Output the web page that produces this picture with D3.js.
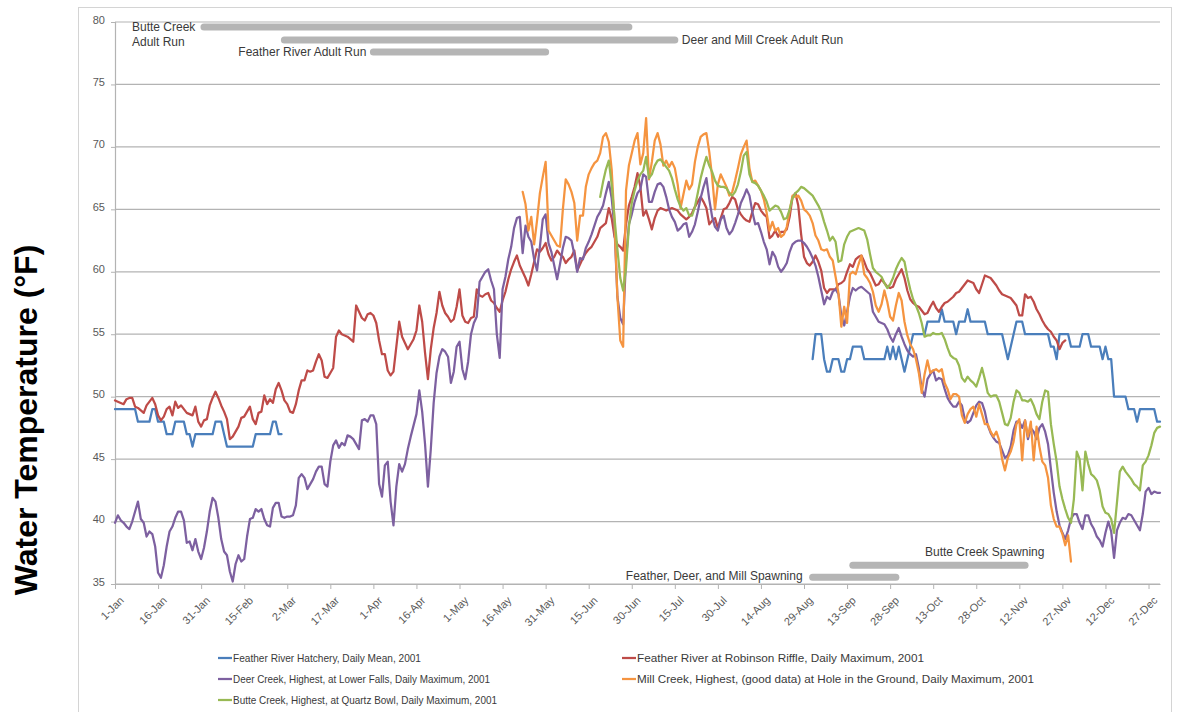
<!DOCTYPE html>
<html>
<head>
<meta charset="utf-8">
<script src="https://cdn.jsdelivr.net/npm/d3@7"></script>
<style>
  html, body { margin: 0; padding: 0; background: #ffffff; }
  svg { display: block; }
  text { font-family: "Liberation Sans", Arial, sans-serif; }
</style>
</head>
<body>
<svg id="chart" width="1177" height="712"></svg>
<script>
// ---- Data: daily water temperatures (°F), 2001 ----

// Feather River Hatchery, daily mean (two recorded periods)
const hatcheryJanFebStart = "2001-01-01";
const hatcheryJanFeb = [
  49,49,49,49,49,49,49,49,48,48, 48,48,48,49,49,48,48,48,47,47,
  47,48,48,48,48,47,47,46,47,47, 47,47,47,47,47,48,48,48,47,46,
  46,46,46,46,46,46,46,46,46,47, 47,47,47,47,47,48,48,47,47
];
const hatcherySepDecStart = "2001-09-01";
const hatcherySepDec = [
  53,55,55,55,53,52,52,53,53,53, 52,52,53,53,54,54,54,54,53,53,
  53,53,53,53,53,53,54,53,54,53, 54,53,52,53,54,55,55,55,55,55,
  56,56,56,56,56,57,56,56,56,56, 55,56,56,56,57,56,56,56,56,56,
  56,55,55,55,55,55,55,54,53,54, 55,56,56,56,55,55,55,55,55,55,
  55,55,55,54,54,53,55,55,55,55, 54,54,54,54,55,55,55,54,54,54,
  54,53,54,53,53,50,50,50,50,50, 49,49,49,48,49,49,49,49,49,49,
  48,48
];

// Feather River at Robinson Riffle, daily maximum
const robinsonStart = "2001-01-01";
const robinsonRiffle = [
  49.7,49.6,49.5,49.4,49.8,49.9,49.9,49.2,49.1,48.9,
  48.7,49.3,49.6,49.9,49.4,48.5,48.1,48.4,49.0,49.2,
  48.5,49.6,49.1,49.3,49.0,48.7,48.6,48.5,49.2,48.0,
  47.6,48.1,48.2,49.3,49.9,50.4,49.9,49.3,48.8,48.2,
  46.6,46.8,47.2,47.6,48.3,48.4,48.8,49.2,48.2,47.8,
  48.7,48.8,50.1,49.4,49.8,49.5,50.6,51.1,50.5,49.7,
  49.4,48.8,48.7,49.4,50.5,51.3,51.3,52.1,52.0,52.1,
  52.8,53.4,52.9,51.6,51.5,51.9,52.3,54.8,55.3,55.0,
  54.9,54.8,54.6,54.4,57.3,56.8,56.3,56.1,56.6,56.7,
  56.5,55.9,54.5,53.4,53.4,52.1,51.7,52.0,54.0,56.0,
  54.8,54.3,53.8,54.2,54.6,55.3,57.3,56.0,53.5,51.4,
  53.8,55.5,56.7,58.4,57.3,56.7,56.4,56.0,56.2,57.2,
  58.6,56.5,56.0,55.9,56.3,56.4,58.6,58.1,58.0,58.2,
  58.3,57.7,57.5,57.1,56.8,57.7,58.4,59.4,60.2,60.8,
  61.3,60.5,60.0,59.5,58.9,59.8,60.8,61.8,61.6,61.9,
  62.3,61.4,60.9,61.2,61.7,61.4,61.2,60.7,61.0,61.2,
  61.7,60.1,60.6,61.1,61.5,61.8,62.0,62.4,62.8,63.5,
  63.7,63.9,65.1,64.3,62.8,62.2,62.0,61.7,63.8,65.3,
  66.0,66.8,67.9,66.8,64.5,64.9,64.2,63.4,64.3,64.9,
  65.1,65.0,64.9,65.0,65.1,65.0,64.9,64.6,64.4,64.2,
  64.4,64.7,65.2,65.6,66.0,65.6,65.1,63.8,64.1,64.3,
  63.5,64.3,65.0,65.1,65.5,66.0,65.8,65.0,64.6,64.3,
  64.1,64.0,64.8,65.5,65.4,64.9,64.6,64.4,62.7,62.9,
  63.3,62.8,63.2,63.2,63.4,64.4,66.0,66.3,65.3,63.0,
  61.2,60.7,60.5,60.8,61.3,60.8,60.1,58.7,58.3,58.6,
  58.6,58.6,59.0,59.1,59.3,60.0,60.6,60.4,61.0,61.2,
  61.3,60.8,60.2,59.9,59.4,58.9,59.0,59.4,59.1,58.8,
  58.7,58.8,59.4,59.8,60.2,59.5,58.5,57.8,57.5,57.3,
  57.2,56.9,56.6,56.7,57.2,57.6,57.1,56.8,57.2,57.5,
  57.6,57.8,58.0,58.3,58.4,58.7,59.0,59.3,59.2,59.1,
  58.6,58.3,59.0,59.7,59.6,59.5,59.2,58.9,58.5,58.2,
  58.1,58.0,57.9,57.6,57.3,56.5,56.5,58.2,57.9,58.0,
  57.6,57.0,56.6,56.1,55.7,55.4,55.2,54.8,54.5,53.8,
  54.3,54.5
];

// Deer Creek, highest, at Lower Falls, daily maximum
const deerStart = "2001-01-01";
const deerCreek = [
  39.9,40.5,40.1,39.9,39.6,39.4,40.0,40.8,41.6,40.2,
  39.9,38.8,39.2,39.0,38.0,35.9,35.5,36.5,38.0,39.2,
  39.6,40.3,40.8,40.8,40.1,38.3,38.4,37.7,38.6,37.6,
  37.0,37.9,39.2,40.8,41.9,41.6,40.3,38.6,37.6,37.3,
  36.0,35.2,36.6,37.3,36.8,37.0,38.8,40.2,40.3,41.0,
  40.8,41.0,40.2,39.7,39.6,41.1,41.5,41.5,40.4,40.3,
  40.4,40.4,40.5,41.3,43.5,43.8,43.5,42.6,43.0,43.4,
  44.0,44.4,44.4,43.0,42.8,44.8,46.1,46.5,45.9,46.3,
  46.1,46.9,46.8,46.6,46.2,45.8,48.1,48.2,48.0,48.5,
  48.5,47.8,43.0,42.0,44.5,44.8,41.6,39.7,42.8,44.6,
  44.0,44.6,45.8,46.8,47.7,48.6,50.5,48.8,46.2,42.8,
  45.8,49.5,51.9,53.2,53.8,53.6,53.2,51.1,52.0,54.0,
  54.4,52.2,51.4,52.8,55.0,55.9,56.4,59.2,59.6,60.0,
  60.2,59.3,58.6,55.0,53.1,58.6,59.6,61.0,62.0,63.5,
  64.3,64.4,61.5,63.7,62.8,62.4,61.0,60.1,62.0,64.2,
  64.6,62.3,61.6,60.5,59.4,60.6,61.9,62.8,62.7,62.5,
  61.4,60.0,61.1,61.0,61.9,62.4,63.0,63.7,64.4,64.8,
  65.3,66.3,67.2,65.9,63.5,58.0,56.3,55.8,61.0,63.8,
  64.6,65.6,66.3,66.6,67.8,67.6,65.6,65.6,66.4,67.0,
  67.1,66.8,66.0,65.0,64.4,64.0,63.3,63.5,63.8,63.9,
  62.8,63.2,63.8,64.8,65.9,66.8,67.5,65.8,64.4,63.6,
  63.3,64.2,64.5,63.5,63.0,63.3,63.9,64.6,65.5,66.0,
  66.6,66.1,64.8,63.8,63.9,63.2,62.4,61.8,60.6,61.6,
  61.2,60.4,60.0,60.3,60.7,61.6,62.2,62.4,62.5,62.5,
  62.3,62.0,61.6,61.1,60.5,59.6,58.5,57.4,58.0,57.8,
  58.4,58.6,58.2,56.5,55.7,56.8,58.0,58.7,58.5,58.7,
  58.8,58.6,58.4,58.2,56.8,56.4,56.0,55.9,55.8,55.4,
  54.8,54.4,55.0,55.5,54.8,54.2,53.7,53.4,53.2,53.4,
  52.3,50.6,50.0,51.4,51.8,52.1,51.3,51.5,51.4,50.6,
  49.9,49.5,49.2,49.2,49.6,49.3,48.2,47.9,48.1,48.7,
  49.3,49.6,49.5,48.8,47.7,47.1,46.7,46.4,46.3,45.7,
  45.1,45.3,46.0,47.3,48.0,48.0,47.5,48.1,46.6,47.5,
  47.2,46.6,47.5,47.8,47.2,46.2,44.2,42.3,40.8,39.7,
  39.1,38.6,39.3,40.2,40.6,40.6,39.9,39.4,40.5,40.5,
  39.8,39.4,38.8,38.5,38.0,39.1,40.0,39.2,37.1,39.3,
  39.9,40.3,40.2,40.6,40.5,40.1,39.7,39.3,40.6,42.4,
  42.7,42.2,42.4,42.3,42.3
];

// Mill Creek, highest, (good data) at Hole in the Ground, daily maximum
const millStart = "2001-05-23";
const millCreek = [
  66.4,65.4,63.3,64.4,62.2,64.1,66.3,67.6,
  68.8,63.3,62.9,62.5,62.1,62.0,65.0,67.4,67.0,66.4,
  65.5,62.5,64.5,64.5,66.8,67.8,68.3,68.7,68.9,69.5,
  70.8,71.1,70.4,68.2,64.0,58.0,54.5,54.0,66.5,68.5,
  69.5,70.5,71.1,68.6,69.5,72.3,67.4,68.8,70.5,71.1,
  70.2,68.5,68.9,68.4,68.8,68.3,67.0,65.1,66.2,67.3,
  66.6,67.0,68.8,70.0,70.8,71.0,71.1,69.6,67.6,65.0,
  67.0,67.8,67.3,66.8,66.1,66.4,67.3,68.3,69.4,70.0,
  70.5,68.3,67.2,67.3,66.9,66.5,65.8,64.7,63.3,64.0,
  63.3,63.5,62.8,63.0,63.6,64.9,66.1,66.0,66.1,65.7,
  65.0,64.8,64.5,63.9,62.9,62.5,61.8,61.7,61.8,61.2,
  60.9,59.6,58.3,55.6,57.2,55.9,59.8,60.0,59.8,60.6,
  61.3,59.8,59.5,59.1,58.4,57.3,56.8,57.4,58.5,57.6,
  56.4,56.1,57.3,58.3,57.7,56.0,54.9,54.2,53.8,53.0,
  51.9,50.3,51.8,52.9,51.9,52.1,52.2,52.0,52.2,51.1,
  50.6,49.8,50.2,50.2,50.0,48.5,47.9,48.6,49.0,49.2,
  48.4,49.4,48.6,47.8,47.8,47.2,46.8,47.2,46.5,45.0,
  44.1,45.1,45.6,46.4,47.8,48.2,44.9,48.1,46.8,48.0,
  44.9,47.6,46.0,44.8,44.5,43.5,41.3,40.2,39.6,39.6,
  39.0,38.1,38.9,36.8
];

// Butte Creek, highest, at Quartz Bowl, daily maximum
const butteStart = "2001-06-19";
const butteCreek = [
  66.0,
  67.2,68.2,68.9,67.0,64.3,61.8,59.5,58.5,60.3,63.6,
  65.5,66.5,67.3,67.8,68.1,69.2,67.5,67.8,68.5,68.9,
  69.0,68.7,68.4,68.1,67.5,66.6,65.8,65.2,64.9,65.1,
  64.5,64.5,65.2,66.3,67.5,68.4,69.2,68.5,68.0,67.3,
  66.9,66.8,66.8,66.7,66.3,66.1,66.4,67.0,68.0,69.3,
  69.6,67.8,67.2,67.1,66.9,66.5,66.1,65.6,64.9,65.1,
  65.3,65.2,64.8,64.2,64.3,65.0,65.9,66.3,66.5,66.8,
  66.7,66.5,66.3,66.1,65.7,65.3,64.8,64.0,63.3,62.5,
  62.8,62.4,60.8,60.9,62.2,62.8,63.2,63.3,63.4,63.5,
  63.4,63.3,62.6,61.4,60.3,60.0,59.8,59.6,59.1,58.7,
  59.0,59.5,60.2,60.7,61.1,60.8,59.6,58.6,57.8,57.3,
  56.7,55.9,54.8,54.9,54.9,55.1,55.0,55.0,55.1,54.6,
  53.9,53.3,53.1,53.0,52.5,51.5,51.2,51.6,51.3,51.1,
  50.8,51.5,52.3,51.4,50.3,50.0,50.1,50.1,49.6,48.7,
  47.8,47.7,48.3,49.6,50.5,50.3,49.7,49.7,49.6,49.8,
  49.3,48.6,48.2,49.6,50.5,50.4,47.8,46.2,44.8,42.8,
  41.8,41.0,40.3,39.9,41.8,45.6,45.0,42.5,45.6,44.6,
  43.8,43.6,43.3,42.5,41.2,40.7,40.6,40.2,39.1,41.5,
  44.0,44.4,44.0,43.7,43.4,43.0,42.8,42.5,44.5,44.8,
  45.3,46.1,47.1,47.5,47.6
];

// Axis ticks and labels
const yTicks = [35, 40, 45, 50, 55, 60, 65, 70, 75, 80];
const xTickLabels = [
  "1-Jan","16-Jan","31-Jan","15-Feb","2-Mar","17-Mar","1-Apr","16-Apr","1-May",
  "16-May","31-May","15-Jun","30-Jun","15-Jul","30-Jul","14-Aug","29-Aug",
  "13-Sep","28-Sep","13-Oct","28-Oct","12-Nov","27-Nov","12-Dec","27-Dec"
];

// Run and spawning periods
const periodNames = [
  "Butte Creek Adult Run", "Deer and Mill Creek Adult Run", "Feather River Adult Run",
  "Feather, Deer, and Mill Spawning", "Butte Creek Spawning"
];
const periodStarts = ["2001-02-01", "2001-03-01", "2001-04-01", "2001-09-01", "2001-09-15"];
const periodEnds   = ["2001-06-29", "2001-07-15", "2001-05-31", "2001-09-30", "2001-11-14"];
const periodLevels = [79.6, 78.55, 77.6, 35.55, 36.5];

const seriesLabels = [
  "Feather River Hatchery, Daily Mean, 2001",
  "Feather River at Robinson Riffle, Daily Maximum, 2001",
  "Deer Creek, Highest, at Lower Falls, Daily Maximum, 2001",
  "Mill Creek, Highest, (good data) at Hole in the Ground, Daily Maximum, 2001",
  "Butte Creek, Highest, at Quartz Bowl, Daily Maximum, 2001"
];
const seriesColors = ["#4a7ebb", "#be4b48", "#7d60a0", "#f59440", "#98b954"];

// ---- Drawing ----
const parse = d3.utcParse("%Y-%m-%d");
const parseTick = d3.utcParse("%Y-%d-%b");

function points(start, values) {
  const t0 = parse(start);
  return values.map((v, i) => ({ date: d3.utcDay.offset(t0, i), value: v }));
}

const series = [
  [points(hatcheryJanFebStart, hatcheryJanFeb), points(hatcherySepDecStart, hatcherySepDec)],
  [points(robinsonStart, robinsonRiffle)],
  [points(deerStart, deerCreek)],
  [points(millStart, millCreek)],
  [points(butteStart, butteCreek)]
];

const svg = d3.select("#chart");
const plotLeft = 115, plotRight = 1160, plotTop = 22, plotBottom = 584;

const x = d3.scaleUtc()
  .domain([parse("2001-01-01"), parse("2001-12-31")])
  .range([plotLeft, plotRight]);
const y = d3.scaleLinear().domain([35, 80]).range([plotBottom, plotTop]);

// chart frame
svg.append("rect")
  .attr("x", 78.5).attr("y", 7.5).attr("width", 1093).attr("height", 720)
  .attr("fill", "none").attr("stroke", "#d4d4d4").attr("stroke-width", 1);

// horizontal gridlines
svg.append("g").selectAll("line").data(yTicks).join("line")
  .attr("x1", plotLeft).attr("x2", plotRight)
  .attr("y1", d => y(d)).attr("y2", d => y(d))
  .attr("stroke", "#b3b3b3").attr("stroke-width", 1.2);

// y axis
const yAxis = svg.append("g")
  .attr("transform", `translate(${plotLeft},0)`)
  .call(d3.axisLeft(y).tickValues(yTicks).tickSize(4).tickPadding(6).tickFormat(d3.format("d")));
yAxis.select(".domain").attr("stroke", "#b3b3b3").attr("stroke-width", 1.2);
yAxis.selectAll(".tick line").attr("stroke", "#b3b3b3");
yAxis.selectAll("text").attr("font-size", 11).attr("fill", "#595959")
  .attr("font-family", "'Liberation Sans', Arial, sans-serif").attr("dy", "0.1em");

// x axis
const tickDates = xTickLabels.map(s => parseTick("2001-" + s));
const xAxis = svg.append("g")
  .attr("transform", `translate(0,${plotBottom})`)
  .call(d3.axisBottom(x).tickValues(tickDates).tickSize(5).tickSizeOuter(0)
    .tickFormat((d, i) => xTickLabels[i]));
xAxis.select(".domain").attr("stroke", "#b3b3b3").attr("stroke-width", 1.2);
xAxis.selectAll(".tick line").attr("stroke", "#b3b3b3");
xAxis.selectAll("text")
  .attr("font-size", 11).attr("fill", "#595959")
  .attr("font-family", "'Liberation Sans', Arial, sans-serif")
  .attr("text-anchor", "end")
  .attr("transform", "translate(-2,6) rotate(-45)")
  .attr("dy", "0.7em");

// period bars
const periods = periodNames.map((n, i) => ({
  name: n, start: parse(periodStarts[i]), end: parse(periodEnds[i]), level: periodLevels[i]
}));
svg.append("g").selectAll("line").data(periods).join("line")
  .attr("x1", d => x(d.start)).attr("x2", d => x(d.end))
  .attr("y1", d => y(d.level)).attr("y2", d => y(d.level))
  .attr("stroke", "#b5b5b5").attr("stroke-width", 7).attr("stroke-linecap", "round");

// period labels
const notes = svg.append("g").attr("font-size", 12).attr("fill", "#3a3a3a");
const p = periods;
notes.append("text").attr("x", 132).attr("y", y(p[0].level) + 4).text("Butte Creek");
notes.append("text").attr("x", 132).attr("y", y(p[0].level) + 19).text("Adult Run");
notes.append("text").attr("x", x(p[1].end) + 7).attr("y", y(p[1].level) + 4).text(p[1].name);
notes.append("text").attr("x", x(p[2].start) - 7).attr("y", y(p[2].level) + 4)
  .attr("text-anchor", "end").text(p[2].name);
notes.append("text").attr("x", x(p[3].start) - 10).attr("y", y(p[3].level) + 3)
  .attr("text-anchor", "end").text(p[3].name);
notes.append("text").attr("x", 925).attr("y", y(p[4].level) - 9).text(p[4].name);

// temperature lines
const line = d3.line().x(d => x(d.date)).y(d => y(d.value));
series.forEach((segs, i) => {
  svg.append("g").selectAll("path").data(segs).join("path")
    .attr("d", line)
    .attr("fill", "none")
    .attr("stroke", seriesColors[i])
    .attr("stroke-width", 2.25)
    .attr("stroke-linejoin", "round")
    .attr("stroke-linecap", "round");
});

// y axis title
svg.append("text")
  .attr("transform", "translate(37,420) rotate(-90)")
  .attr("text-anchor", "middle")
  .attr("font-size", 32).attr("font-weight", "bold").attr("fill", "#000")
  .text("Water Temperature (°F)");

// legend: two columns, entries laid out row by row
const legendPos = [[218, 658], [622, 658], [218, 679], [622, 679], [218, 700]];
const legendTextWidth = [188, 287, 257, 397, 264];
const legend = svg.append("g").selectAll("g").data(seriesLabels).join("g")
  .attr("transform", (d, i) => `translate(${legendPos[i][0]},${legendPos[i][1]})`);
legend.append("line").attr("x1", 0).attr("x2", 14).attr("y1", 0).attr("y2", 0)
  .attr("stroke", (d, i) => seriesColors[i]).attr("stroke-width", 2.25);
legend.append("text").attr("x", 15).attr("y", 3.5)
  .attr("font-size", 10.2).attr("fill", "#3a3a3a")
  .attr("textLength", (d, i) => legendTextWidth[i])
  .attr("lengthAdjust", "spacingAndGlyphs")
  .text(d => d);
</script>
</body>
</html>
